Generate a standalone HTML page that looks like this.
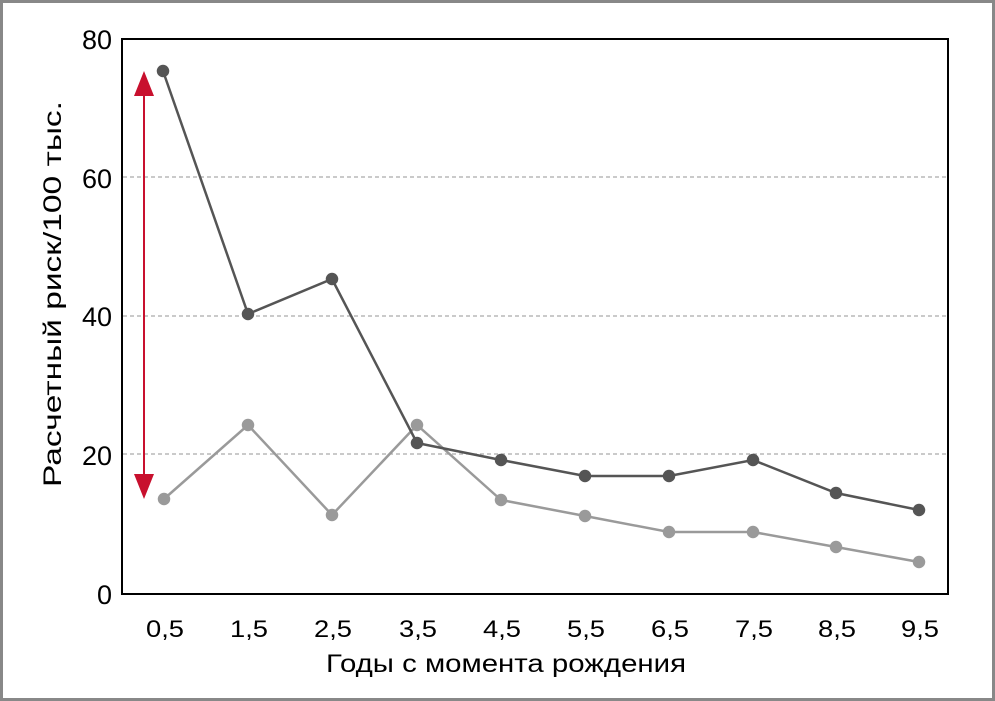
<!DOCTYPE html><html><head><meta charset="utf-8"><style>body{margin:0}svg{display:block}</style></head><body>
<svg width="995" height="701" xmlns="http://www.w3.org/2000/svg" font-family="Liberation Sans, sans-serif">
<rect x="1.5" y="1.5" width="992" height="698" fill="#fff" stroke="#888" stroke-width="3"/>
<g stroke="#aaa" stroke-width="1.3" stroke-dasharray="4,3">
<line x1="123" y1="177" x2="947" y2="177"/><line x1="123" y1="316" x2="947" y2="316"/><line x1="123" y1="454" x2="947" y2="454"/></g>
<rect x="122" y="39" width="826" height="555" fill="none" stroke="#000" stroke-width="2"/>
<g font-size="27" text-anchor="end" fill="#000"><text x="112" y="49">80</text><text x="112" y="188">60</text><text x="112" y="326">40</text><text x="112" y="465">20</text><text x="112" y="604">0</text></g>
<g font-size="24" text-anchor="middle"><text x="165" y="637" textLength="38" lengthAdjust="spacingAndGlyphs">0,5</text><text x="249" y="637" textLength="38" lengthAdjust="spacingAndGlyphs">1,5</text><text x="333" y="637" textLength="38" lengthAdjust="spacingAndGlyphs">2,5</text><text x="418" y="637" textLength="38" lengthAdjust="spacingAndGlyphs">3,5</text><text x="502" y="637" textLength="38" lengthAdjust="spacingAndGlyphs">4,5</text><text x="586" y="637" textLength="38" lengthAdjust="spacingAndGlyphs">5,5</text><text x="670" y="637" textLength="38" lengthAdjust="spacingAndGlyphs">6,5</text><text x="754" y="637" textLength="38" lengthAdjust="spacingAndGlyphs">7,5</text><text x="837" y="637" textLength="38" lengthAdjust="spacingAndGlyphs">8,5</text><text x="920" y="637" textLength="38" lengthAdjust="spacingAndGlyphs">9,5</text></g>
<g font-size="25" text-anchor="middle">
<text x="506" y="672" textLength="360" lengthAdjust="spacingAndGlyphs">Годы с момента рождения</text>
<text transform="translate(61,294) rotate(-90)" textLength="386" lengthAdjust="spacingAndGlyphs">Расчетный риск/100 тыс.</text></g>
<line x1="144" y1="90" x2="144" y2="480" stroke="#c8102e" stroke-width="2"/>
<polygon points="144,71 134,96 154,96" fill="#c8102e"/><polygon points="144,499 134,474 154,474" fill="#c8102e"/>
<g fill="#9a9a9a" stroke="#9a9a9a" stroke-width="2.5"><polyline fill="none" points="164,499 248,425 332,515 417,425 501,500 585,516 669,532 753,532 836,547 919,562"/>
<circle cx="164" cy="499" r="5"/><circle cx="248" cy="425" r="5"/><circle cx="332" cy="515" r="5"/><circle cx="417" cy="425" r="5"/><circle cx="501" cy="500" r="5"/><circle cx="585" cy="516" r="5"/><circle cx="669" cy="532" r="5"/><circle cx="753" cy="532" r="5"/><circle cx="836" cy="547" r="5"/><circle cx="919" cy="562" r="5"/></g>
<g fill="#555" stroke="#555" stroke-width="2.5"><polyline fill="none" points="163,71 248,314 332,279 417,443 501,460 585,476 669,476 753,460 836,493 919,510"/>
<circle cx="163" cy="71" r="5"/><circle cx="248" cy="314" r="5"/><circle cx="332" cy="279" r="5"/><circle cx="417" cy="443" r="5"/><circle cx="501" cy="460" r="5"/><circle cx="585" cy="476" r="5"/><circle cx="669" cy="476" r="5"/><circle cx="753" cy="460" r="5"/><circle cx="836" cy="493" r="5"/><circle cx="919" cy="510" r="5"/></g>
</svg></body></html>
